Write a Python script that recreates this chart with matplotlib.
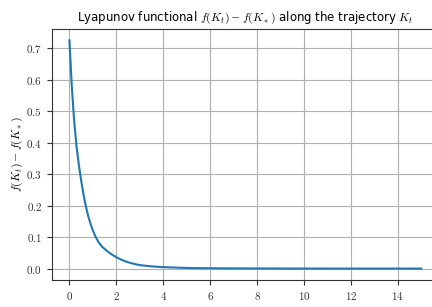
import matplotlib
matplotlib.use('Agg')
import matplotlib.pyplot as plt
from matplotlib.ticker import FuncFormatter

plt.rcParams['mathtext.fontset'] = 'cm'
plt.rcParams['font.family'] = 'DejaVu Sans'

# values
t = [0, 0.1, 0.2, 0.3, 0.4, 0.5, 0.6, 0.7, 0.8, 0.9, 1.0, 1.1, 1.25, 1.4,
     1.6, 1.8, 2.0, 2.25, 2.5, 2.75, 3.0, 3.5, 4.0, 5.0, 6.0, 8.0, 10.0, 12.0, 15.0]
gap = [0.725, 0.58, 0.47, 0.39, 0.33, 0.28, 0.235, 0.198, 0.167, 0.142, 0.121,
       0.103, 0.083, 0.069, 0.056, 0.045, 0.036, 0.027, 0.020, 0.015, 0.011,
       0.007, 0.0045, 0.002, 0.001, 0.0003, 0.0001, 0.0, 0.0]

fig = plt.figure(figsize=(4.32, 3.07), dpi=100)
ax = fig.add_axes([0.120, 0.088, 0.896, 0.8175])
ax.plot(t, gap, color='#1f77b4', linewidth=1.5)

ax.grid(True, color='#b0b0b0', linewidth=0.8)
ax.set_axisbelow(True)
for s in ax.spines.values():
    s.set_color('#333333')
ax.tick_params(colors='#333333', labelsize=8, length=3.5)
ax.set_xticks([0, 2, 4, 6, 8, 10, 12, 14])
ax.set_yticks([0.0, 0.1, 0.2, 0.3, 0.4, 0.5, 0.6, 0.7])
ax.xaxis.set_major_formatter(FuncFormatter(lambda v, p: r'$%d$' % v))
ax.yaxis.set_major_formatter(FuncFormatter(lambda v, p: r'$%.1f$' % v))

ax.set_title(r'Lyapunov functional $f(K_t) - f(K_*)$ along the trajectory $K_t$',
             fontsize=8.5, pad=6)
ax.set_ylabel(r'$f(K_t) - f(K_*)$', fontsize=8.5, labelpad=1)
ax.set_xlabel(r'$t$', fontsize=8.5)

fig.savefig('out.png', dpi=100)
